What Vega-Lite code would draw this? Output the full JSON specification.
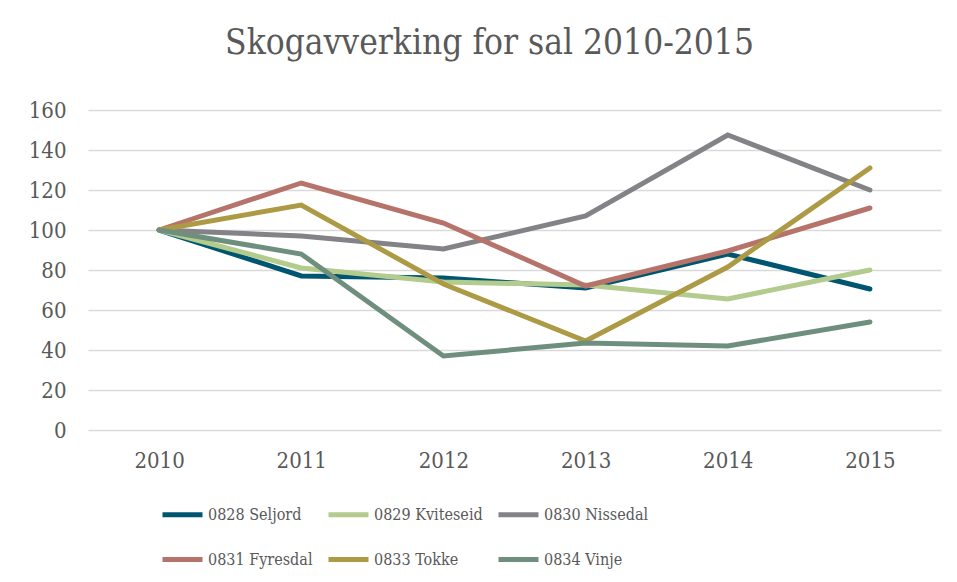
{
  "$schema": "https://vega.github.io/schema/vega-lite/v6.json",
  "width": 853,
  "height": 320,
  "autosize": {"type": "none"},
  "padding": {"left": 88, "top": 110, "right": 16, "bottom": 152},
  "background": "white",
  "config": {"view": {"stroke": null}},
  "title": {
    "text": "Skogavverking for sal 2010-2015",
    "font": "DejaVu Serif Condensed",
    "fontSize": 35,
    "fontWeight": "normal",
    "color": "#595959",
    "anchor": "middle",
    "frame": "group",
    "dx": -25,
    "offset": 38
  },
  "data": {
    "values": [
      {"year": "2010", "kommune": "0828 Seljord", "v": 100},
      {"year": "2011", "kommune": "0828 Seljord", "v": 77},
      {"year": "2012", "kommune": "0828 Seljord", "v": 76},
      {"year": "2013", "kommune": "0828 Seljord", "v": 71},
      {"year": "2014", "kommune": "0828 Seljord", "v": 88},
      {"year": "2015", "kommune": "0828 Seljord", "v": 70.5},
      {"year": "2010", "kommune": "0829 Kviteseid", "v": 100},
      {"year": "2011", "kommune": "0829 Kviteseid", "v": 81},
      {"year": "2012", "kommune": "0829 Kviteseid", "v": 74},
      {"year": "2013", "kommune": "0829 Kviteseid", "v": 72.5},
      {"year": "2014", "kommune": "0829 Kviteseid", "v": 65.5},
      {"year": "2015", "kommune": "0829 Kviteseid", "v": 80},
      {"year": "2010", "kommune": "0830 Nissedal", "v": 100},
      {"year": "2011", "kommune": "0830 Nissedal", "v": 97},
      {"year": "2012", "kommune": "0830 Nissedal", "v": 90.5},
      {"year": "2013", "kommune": "0830 Nissedal", "v": 107},
      {"year": "2014", "kommune": "0830 Nissedal", "v": 147.5},
      {"year": "2015", "kommune": "0830 Nissedal", "v": 120},
      {"year": "2010", "kommune": "0831 Fyresdal", "v": 100},
      {"year": "2011", "kommune": "0831 Fyresdal", "v": 123.5},
      {"year": "2012", "kommune": "0831 Fyresdal", "v": 103.5},
      {"year": "2013", "kommune": "0831 Fyresdal", "v": 72},
      {"year": "2014", "kommune": "0831 Fyresdal", "v": 89.5},
      {"year": "2015", "kommune": "0831 Fyresdal", "v": 111},
      {"year": "2010", "kommune": "0833 Tokke", "v": 100},
      {"year": "2011", "kommune": "0833 Tokke", "v": 112.5},
      {"year": "2012", "kommune": "0833 Tokke", "v": 73},
      {"year": "2013", "kommune": "0833 Tokke", "v": 44.5},
      {"year": "2014", "kommune": "0833 Tokke", "v": 81.5},
      {"year": "2015", "kommune": "0833 Tokke", "v": 131},
      {"year": "2010", "kommune": "0834 Vinje", "v": 100},
      {"year": "2011", "kommune": "0834 Vinje", "v": 88},
      {"year": "2012", "kommune": "0834 Vinje", "v": 37},
      {"year": "2013", "kommune": "0834 Vinje", "v": 43.5},
      {"year": "2014", "kommune": "0834 Vinje", "v": 42},
      {"year": "2015", "kommune": "0834 Vinje", "v": 54}
    ]
  },
  "mark": {"type": "line", "strokeWidth": 5, "strokeCap": "round", "strokeJoin": "miter"},
  "encoding": {
    "x": {
      "field": "year",
      "type": "ordinal",
      "scale": {"type": "point", "padding": 0.5},
      "axis": {
        "title": null,
        "labelAngle": 0,
        "domain": false,
        "ticks": false,
        "grid": false,
        "labelPadding": 20,
        "labelFont": "DejaVu Serif Condensed",
        "labelFontSize": 22,
        "labelColor": "#595959"
      }
    },
    "y": {
      "field": "v",
      "type": "quantitative",
      "scale": {"domain": [0, 160], "nice": false},
      "axis": {
        "title": null,
        "values": [0, 20, 40, 60, 80, 100, 120, 140, 160],
        "domain": false,
        "ticks": false,
        "grid": true,
        "gridColor": "#d9d9d9",
        "gridWidth": 1.5,
        "labelPadding": 22,
        "labelFont": "DejaVu Serif Condensed",
        "labelFontSize": 22,
        "labelColor": "#595959"
      }
    },
    "color": {
      "field": "kommune",
      "type": "nominal",
      "scale": {
        "domain": ["0828 Seljord", "0829 Kviteseid", "0830 Nissedal", "0831 Fyresdal", "0833 Tokke", "0834 Vinje"],
        "range": ["#005670", "#b3cb8c", "#838287", "#b5736a", "#ad9a45", "#6f8f7e"]
      },
      "legend": {
        "title": null,
        "orient": "none",
        "legendX": 72,
        "legendY": 382,
        "direction": "horizontal",
        "columns": 3,
        "symbolType": "stroke",
        "symbolSize": 1600,
        "symbolStrokeWidth": 5,
        "labelOffset": 3,
        "labelFont": "DejaVu Serif Condensed",
        "labelFontSize": 16,
        "labelColor": "#595959",
        "rowPadding": 12,
        "columnPadding": 5,
        "labelLimit": 200
      }
    }
  }
}
